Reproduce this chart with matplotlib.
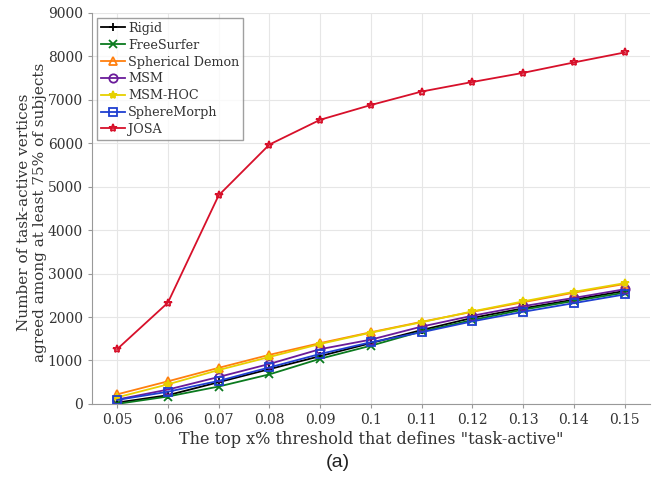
import matplotlib
matplotlib.use("Agg")
import matplotlib.pyplot as plt

thresholds = [0.05, 0.06, 0.07, 0.08, 0.09, 0.10, 0.11, 0.12, 0.13, 0.14, 0.15]
xtick_labels = ["0.05", "0.06", "0.07", "0.08", "0.09", "0.1", "0.11", "0.12", "0.13", "0.14", "0.15"]

rigid = [30, 200, 500, 800, 1100, 1400, 1700, 1980, 2200, 2400, 2600]
freesurfer = [0, 170, 400, 680, 1040, 1340, 1670, 1930, 2170, 2370, 2560]
spherical_demon = [220, 520, 830, 1130, 1400, 1650, 1890, 2120, 2340, 2560, 2760]
msm = [100, 330, 620, 920, 1260, 1480, 1780, 2030, 2250, 2440, 2640]
msm_hoc = [150, 450, 780, 1080, 1380, 1640, 1880, 2130, 2360, 2580, 2780]
spheremorph = [90, 280, 530, 840, 1150, 1420, 1650, 1900, 2120, 2320, 2520]
josa = [1260, 2330, 4800, 5970, 6540, 6880, 7190, 7410, 7620, 7860, 8090]

series = [
    ("Rigid", rigid, "#000000", "+", "full"),
    ("FreeSurfer", freesurfer, "#0a7a1e", "x", "full"),
    ("Spherical Demon", spherical_demon, "#ff7f0e", "^", "none"),
    ("MSM", msm, "#6a1b9a", "o", "none"),
    ("MSM-HOC", msm_hoc, "#e6d000", "*", "full"),
    ("SphereMorph", spheremorph, "#1f3fd0", "s", "none"),
    ("JOSA", josa, "#d7102a", "*", "none"),
]

fig = plt.figure(figsize=(6.6, 4.78), dpi=100)
ax = fig.add_axes([0.139, 0.155, 0.846, 0.818])

for name, vals, color, marker, fill in series:
    ax.plot(thresholds, vals, color=color, marker=marker, fillstyle=fill,
            markersize=6, linewidth=1.3, markeredgewidth=1.3, label=name)

ax.set_xlim(0.045, 0.155)
ax.set_ylim(0, 9000)
ax.set_xticks(thresholds)
ax.set_xticklabels(xtick_labels)
ax.set_yticks(range(0, 9001, 1000))
ax.grid(True, color="#e6e6e6", linewidth=0.8)
ax.set_axisbelow(True)
for s in ["top", "right"]:
    ax.spines[s].set_visible(False)
for s in ["left", "bottom"]:
    ax.spines[s].set_color("#999999")
ax.tick_params(colors="#333333", labelsize=10, length=3, width=0.8)
for lbl in ax.get_xticklabels() + ax.get_yticklabels():
    lbl.set_family("DejaVu Serif")
    lbl.set_color("#333333")
ax.tick_params(axis="both", color="#999999")

ax.set_xlabel('The top x% threshold that defines "task-active"', family="DejaVu Serif",
              fontsize=11.5, color="#333333", labelpad=3)
ax.set_ylabel("Number of task-active vertices\nagreed among at least 75% of subjects",
              family="DejaVu Serif", fontsize=11, color="#333333", linespacing=1.1)
ax.yaxis.set_label_coords(-0.081, 0.49)

leg = ax.legend(loc="upper left", bbox_to_anchor=(0.0, 1.0), prop={"family": "DejaVu Serif", "size": 9.2},
                frameon=True, fancybox=False, edgecolor="#888888", borderpad=0.3,
                labelspacing=0.3, handlelength=1.9, handletextpad=0.25, borderaxespad=0.4)
for t in leg.get_texts():
    t.set_color("#333333")

fig.text(0.512, 0.033, "(a)", family="Liberation Sans", fontsize=14, color="#222222",
         ha="center", va="center")

fig.savefig("out.png", dpi=100)
